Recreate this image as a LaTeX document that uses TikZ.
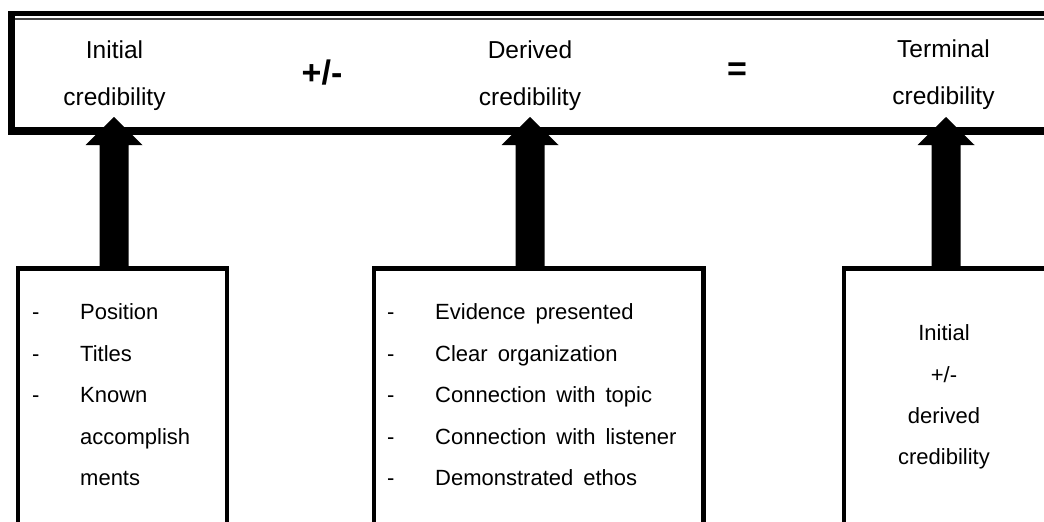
\documentclass[tikz,border=0pt]{standalone}
\usepackage{fontspec}
\setmainfont{Liberation Sans}
\usetikzlibrary{calc}

% Solid block arrow rising from the top edge of box #1 to the tip coordinate #2
\newcommand\blockup[2]{%
  \fill ($(#2 |- #1.north)+(-14.5,0)$) -- ($(#2)+(-14.5,28)$) -- ($(#2)+(-28.5,28)$)
        -- (#2) -- ($(#2)+(28.5,28)$) -- ($(#2)+(14.5,28)$)
        -- ($(#2 |- #1.north)+(14.5,0)$) -- cycle;}
% list text with slightly wider word gaps
\newcommand\listfont{\fontsize{22}{26}\selectfont\spaceskip 10pt plus 1pt\relax}

\begin{document}
\begin{tikzpicture}[x=1pt,y=-1pt,
  head/.style={font=\fontsize{24.5}{29}\selectfont, anchor=base, inner sep=0},
  op/.style={font=\fontsize{34}{40}\selectfont\bfseries, anchor=center, inner sep=0},
  item/.style={font=\listfont, anchor=base west, inner sep=0},
  citem/.style={font=\fontsize{22}{26}\selectfont, anchor=base, inner sep=0},
  frame/.style={draw, line width=4.5pt, rectangle, inner sep=0, anchor=north west},
]
\useasboundingbox (0,0) rectangle (1044,522);

% equation bar across the top, its edges drawn one by one
\node[rectangle, inner sep=0, anchor=north west,
      minimum width=1050pt, minimum height=117pt] (bar) at (11.5,13.5) {};
\draw[line width=5pt] ([xshift=-3.5pt]bar.north west) -- (bar.north east);
\draw[line width=7pt] ([yshift=2.5pt]bar.north west) -- ([yshift=-4pt]bar.south west);
\draw[line width=8pt] ([xshift=-3.5pt]bar.south west) -- (bar.south east);
\draw[gray!55!black, line width=2pt] (15,19) -- (1044,19);

\node[head] (ini1) at (114.5,58)  {Initial};
\node[head] (ini2) at (114.5,105) {credibility};
\node[op]   (pm)   at (322,73)    {+/-};
\node[head] (der1) at (530,58)    {Derived};
\node[head] (der2) at (530,105)   {credibility};
\node[op]   (eq)   at (737,72)    {=};
\node[head] (ter1) at (943.5,57)  {Terminal};
\node[head] (ter2) at (943.5,104) {credibility};

% source boxes
\node[frame, minimum width=209pt,   minimum height=257pt] (lbox) at (15.5,266)  {};
\node[frame, minimum width=329.5pt, minimum height=257pt] (mbox) at (371.5,266) {};
\node[frame, minimum width=220pt,   minimum height=257pt] (rbox) at (841.5,266) {};

% arrow tips
\coordinate (tipl) at (114,117);
\coordinate (tipm) at (530,117);
\coordinate (tipr) at (946,117);
\blockup{lbox}{tipl}
\blockup{mbox}{tipm}
\blockup{rbox}{tipr}

% initial credibility factors
\foreach \y/\d/\t [count=\i] in {319.5/-/Position, 361/-/Titles, 402.5/-/Known,
                                 444/{}/accomplish, 485.5/{}/ments} {
  \node[item] (ld\i) at (32,\y) {\d};
  \node[item] (lt\i) at (80,\y) {\t};
}

% derived credibility factors
\foreach \y/\t [count=\i] in {319.5/Evidence presented, 361/Clear organization,
                              402.5/Connection with topic, 444/Connection with listener,
                              485.5/Demonstrated ethos} {
  \node[item] (md\i) at (387,\y) {-};
  \node[item] (mt\i) at (435,\y) {\t};
}

% terminal credibility
\node[citem] (r1) at (944,340.5) {Initial};
\node[citem] (r2) at (944,382)   {+/-};
\node[citem] (r3) at (944,423)   {derived};
\node[citem] (r4) at (944,464)   {credibility};
\end{tikzpicture}
\end{document}
